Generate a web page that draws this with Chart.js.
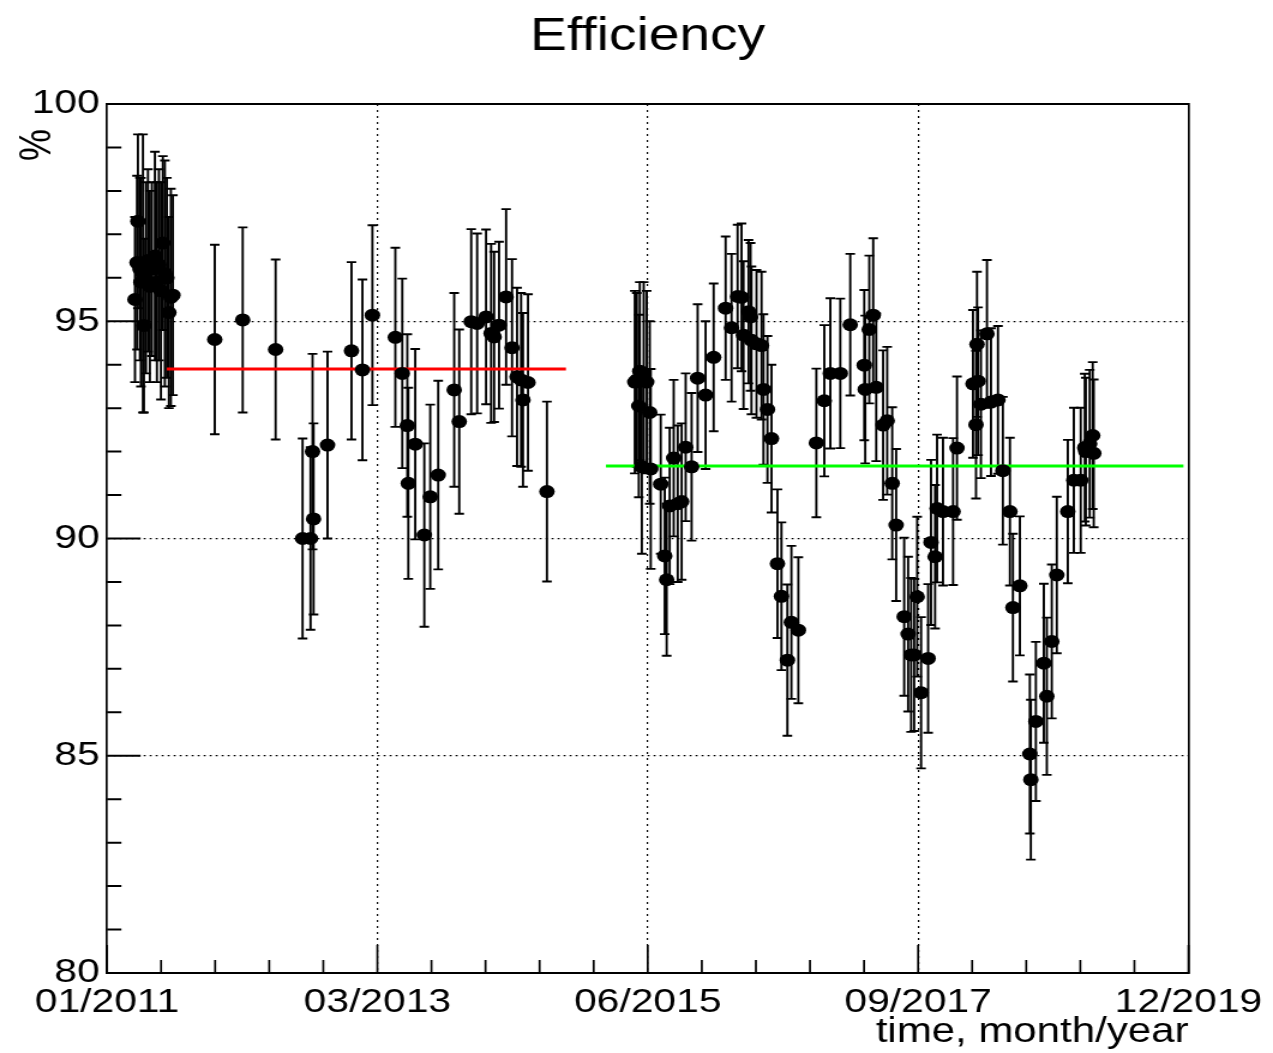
<!DOCTYPE html>
<html>
<head>
<meta charset="utf-8">
<title>Efficiency</title>
<script src="https://cdn.jsdelivr.net/npm/chart.js@4.4.1/dist/chart.umd.min.js"></script>
<style>
  html, body { margin: 0; padding: 0; background: #fff; overflow: hidden; }
  /* the plot is drawn narrow and widened, like the original canvas export */
  #stage { width: 1061px; height: 1053px; transform: scaleX(1.199812); transform-origin: 0 0; }
</style>
</head>
<body>
<div id="stage"><canvas id="effChart" width="1061" height="1053"></canvas></div>
<script>
// x: months since 01/2011, efficiency in %, half-length of each error bar
const months = [
  2.78, 2.98, 3.07, 3.27, 3.37, 3.57, 3.67, 3.87, 4.07, 4.26, 4.46, 4.76, 4.96, 5.16, 5.36, 5.55, 5.75, 5.95, 6.15, 6.35, 6.55,
  10.71, 13.49, 16.76, 19.44, 20.23, 20.43, 20.53, 21.92, 24.30, 25.39, 26.38,
  28.66, 29.35, 29.85, 29.95, 30.64, 31.54, 32.13, 32.92, 34.51, 35.01, 36.20, 36.79, 37.68, 38.18, 38.48, 38.97, 39.67, 40.26, 40.76, 41.16, 41.35, 41.85, 43.73,
  52.46, 52.66, 52.86, 52.96, 53.16, 53.35, 53.65, 53.95, 54.05, 55.04, 55.44, 55.63, 55.93, 56.33, 56.73, 57.12, 57.52, 58.11, 58.71, 59.50, 60.30,
  61.49, 62.08, 62.68, 63.07, 63.27, 63.77, 63.97, 64.06, 64.56, 65.06, 65.25, 65.65, 66.05, 66.64, 67.04, 67.63, 68.03, 68.72,
  70.51, 71.30, 71.90, 72.89, 73.88, 75.27, 75.37, 75.77, 76.16, 76.46, 77.15, 77.55, 78.05, 78.44,
  79.24, 79.63, 79.93, 80.23, 80.53, 80.92, 81.62, 81.91, 82.31, 82.51, 83.10, 84.10, 84.49,
  86.08, 86.38, 86.48, 86.58, 86.87, 87.47, 87.87, 88.56, 89.05, 89.75, 90.05, 90.74, 91.73, 91.83, 92.33, 93.12, 93.42, 93.91, 94.41,
  95.50, 96.10, 96.79, 97.19, 97.29, 97.68, 97.98, 98.08
];
const efficiency = [
  95.5, 96.35, 97.3, 96.2, 95.9, 96.1, 94.9, 96.0, 96.4, 95.8, 96.2, 96.5, 95.9, 96.3, 95.7, 96.8, 96.1, 96.0, 95.2, 95.55, 95.6,
  94.58, 95.03, 94.35, 90.0, 90.0, 92.0, 90.45, 92.15, 94.32, 93.88, 95.14,
  94.63, 93.8, 92.6, 91.27, 92.17, 90.08, 90.96, 91.46, 93.42, 92.69, 94.99, 94.95, 95.1, 94.72, 94.64, 94.91, 95.56, 94.39, 93.72, 93.65, 93.19, 93.59, 91.08,
  93.6, 93.65, 93.05, 93.85, 91.65, 93.8, 93.6, 92.9, 91.6, 91.25, 89.6, 89.05, 90.75, 91.85, 90.8, 90.85, 92.1, 91.65, 93.69, 93.3, 94.17,
  95.3, 94.85, 95.57, 95.55, 94.68, 95.22, 95.1, 94.56, 94.48, 94.44, 93.43, 92.97, 92.3, 89.42, 88.67, 87.2, 88.07, 87.89,
  92.2, 93.17, 93.8, 93.8, 94.92, 93.99, 93.43, 94.81, 95.14, 93.48, 92.61, 92.71, 91.27, 90.31,
  88.2, 87.8, 87.32, 87.32, 88.66, 86.45, 87.24, 89.91, 89.58, 90.69, 90.62, 90.62, 92.08,
  93.56, 92.62, 94.47, 93.62, 93.09, 94.71, 93.14, 93.19, 91.56, 90.62, 88.41, 88.91, 85.04, 84.45, 85.79, 87.13, 86.37, 87.63, 89.16,
  90.62, 91.34, 91.34, 92.09, 92.0, 92.18, 92.37, 91.96
];
const errors = [
  1.9, 2.0, 2.0, 2.1, 2.4, 3.2, 2.0, 2.2, 2.1, 2.2, 2.0, 2.4, 2.3, 2.2, 2.5, 2.0, 2.6, 2.3, 2.2, 2.5, 2.3,
  2.18, 2.13, 2.07, 2.3, 2.1, 2.25, 2.2, 2.15, 2.04, 2.08, 2.07,
  2.06, 2.18, 2.1, 2.2, 2.19, 2.11, 2.12, 2.17, 2.23, 2.12, 2.13, 2.07, 2.01, 2.06, 1.96, 1.92, 2.02, 2.04, 2.05, 2.0, 2.0, 2.03, 2.07,
  2.1, 2.0, 2.1, 2.05, 2.0, 2.1, 2.1, 2.1, 2.3, 1.6, 1.8, 1.75, 1.8, 1.8, 1.8, 1.8, 1.7, 1.7, 1.7, 1.7, 1.7,
  1.65, 1.7, 1.65, 1.7, 1.7, 1.65, 1.7, 1.7, 1.7, 1.7, 1.73, 1.69, 1.7, 1.71, 1.7, 1.74, 1.76, 1.68,
  1.71, 1.74, 1.73, 1.72, 1.63, 1.73, 1.7, 1.7, 1.77, 1.7, 1.72, 1.7, 1.75, 1.75,
  1.82, 1.78, 1.77, 1.75, 1.84, 1.74, 1.71, 1.9, 1.65, 1.7, 1.7, 1.69, 1.65,
  1.7, 1.7, 1.67, 1.7, 1.7, 1.7, 1.7, 1.7, 1.7, 1.7, 1.7, 1.6, 1.83, 1.84, 1.83, 1.83, 1.81, 1.77, 1.8,
  1.65, 1.67, 1.67, 1.7, 1.7, 1.7, 1.69, 1.7
];

// mean efficiency of the two running periods
const firstMeanX = [5.95, 45.62];
const firstMean = 93.9;
const secondMeanX = [49.59, 107.0];
const secondMean = 91.67;

const xTickLabels = ['01/2011', '03/2013', '06/2015', '09/2017', '12/2019'];
const xSpan = 107.5;      // months shown on the time axis
const yMin = 80, yMax = 100;

Chart.defaults.font.family = '"Liberation Sans", Arial, sans-serif';
Chart.defaults.color = '#000';

// vertical error bars with small caps, under the markers
const errorBars = {
  id: 'errorBars',
  beforeDatasetsDraw(chart) {
    const {ctx, chartArea: a} = chart;
    const x = chart.scales.x, y = chart.scales.y;
    ctx.save();
    ctx.beginPath();
    ctx.rect(a.left, a.top, a.right - a.left, a.bottom - a.top);
    ctx.clip();
    ctx.strokeStyle = '#000';
    ctx.lineWidth = 1.9;
    months.forEach((m, i) => {
      const px = x.getPixelForValue(m);
      const top = y.getPixelForValue(efficiency[i] + errors[i]);
      const bot = y.getPixelForValue(efficiency[i] - errors[i]);
      ctx.beginPath();
      ctx.moveTo(px, top); ctx.lineTo(px, bot);
      ctx.moveTo(px - 4, top); ctx.lineTo(px + 4, top);
      ctx.moveTo(px - 4, bot); ctx.lineTo(px + 4, bot);
      ctx.stroke();
    });
    ctx.restore();
  }
};

// tick marks pointing into the frame, plus the rotated "%" axis title
const frameTicks = {
  id: 'frameTicks',
  afterDatasetsDraw(chart) {
    const {ctx, chartArea: a} = chart;
    const x = chart.scales.x, y = chart.scales.y;
    ctx.save();
    ctx.strokeStyle = '#000';
    ctx.lineWidth = 1.7;
    ctx.beginPath();
    x.ticks.forEach((t, i) => {
      const px = x.getPixelForValue(t.value);
      const len = i % 5 === 0 ? 28 : 13;
      ctx.moveTo(px, a.bottom);
      ctx.lineTo(px, a.bottom - len);
    });
    ctx.stroke();
    ctx.lineWidth = 2;
    ctx.beginPath();
    y.ticks.forEach(t => {
      const py = y.getPixelForValue(t.value);
      const len = t.value % 5 === 0 ? 28 : 12;
      ctx.moveTo(a.left, py);
      ctx.lineTo(a.left + len, py);
    });
    ctx.stroke();

    ctx.fillStyle = '#000';
    ctx.font = '36px "Liberation Sans", Arial, sans-serif';
    ctx.translate(32, y.top + 41);
    ctx.rotate(-Math.PI / 2);
    ctx.textAlign = 'center';
    ctx.textBaseline = 'middle';
    ctx.fillText('%', 0, 0);
    ctx.restore();
  }
};

const clear = 'rgba(0,0,0,0)';

new Chart(document.getElementById('effChart'), {
  type: 'scatter',
  data: {
    datasets: [
      {
        type: 'scatter',
        data: months.map((m, i) => ({x: m, y: efficiency[i]})),
        pointRadius: 6.5,
        pointBackgroundColor: '#000',
        pointBorderWidth: 0,
        order: 0
      },
      {
        type: 'line',
        data: firstMeanX.map(v => ({x: v, y: firstMean})),
        borderColor: '#ff0000',
        borderWidth: 3,
        pointRadius: 0,
        order: 1
      },
      {
        type: 'line',
        data: secondMeanX.map(v => ({x: v, y: secondMean})),
        borderColor: '#00ff00',
        borderWidth: 3,
        pointRadius: 0,
        order: 1
      }
    ]
  },
  options: {
    responsive: false,
    animation: false,
    events: [],
    layout: { padding: 0 },
    plugins: {
      legend: { display: false },
      tooltip: { enabled: false },
      title: {
        display: true,
        text: 'Efficiency',
        fullSize: false,
        color: '#000',
        font: { size: 46, weight: 'normal' },
        padding: { top: 10, bottom: 38.8 }
      }
    },
    scales: {
      x: {
        type: 'linear',
        position: 'bottom',
        min: 0,
        max: xSpan,
        afterBuildTicks: scale => {
          scale.ticks = Array.from({length: 21}, (_, i) => ({value: i * xSpan / 20}));
        },
        afterFit: scale => { scale.height = 80; },
        ticks: {
          autoSkip: false,
          maxRotation: 0,
          padding: 9,
          font: { size: 34 },
          callback: (v, i) => (i % 5 === 0 ? xTickLabels[i / 5] : '')
        },
        grid: {
          drawTicks: false,
          lineWidth: 1.2,
          color: c => (c.index % 5 === 0 && c.index > 0 && c.index < 20 ? '#000' : clear)
        },
        border: { display: true, color: '#000', width: 2, dash: [2, 4] },
        title: {
          display: true,
          text: 'time, month/year',
          align: 'end',
          font: { size: 35 },
          padding: { top: 0, bottom: 0 }
        }
      },
      y: {
        type: 'linear',
        position: 'left',
        min: yMin,
        max: yMax,
        afterFit: scale => { scale.width = 89.18; },
        ticks: {
          stepSize: 1,
          autoSkip: false,
          padding: 6,
          font: { size: 34 },
          callback: v => (v % 5 === 0 ? v : '')
        },
        grid: {
          drawTicks: false,
          lineWidth: 1.2,
          color: c => (c.tick && c.tick.value % 5 === 0 && c.tick.value > yMin && c.tick.value < yMax ? '#000' : clear)
        },
        border: { display: true, color: '#000', width: 1.7, dash: [1.7, 3.3] }
      },
      xTop: {
        type: 'linear',
        position: 'top',
        min: 0,
        max: xSpan,
        afterFit: scale => { scale.height = 0; },
        ticks: { display: false },
        grid: { display: false, drawTicks: false },
        border: { display: true, color: '#000', width: 2 }
      },
      yRight: {
        type: 'linear',
        position: 'right',
        min: yMin,
        max: yMax,
        afterFit: scale => { scale.width = 66.3; },
        ticks: { display: false },
        grid: { display: false, drawTicks: false },
        border: { display: true, color: '#000', width: 1.7 }
      }
    }
  },
  plugins: [errorBars, frameTicks]
});
</script>
</body>
</html>
